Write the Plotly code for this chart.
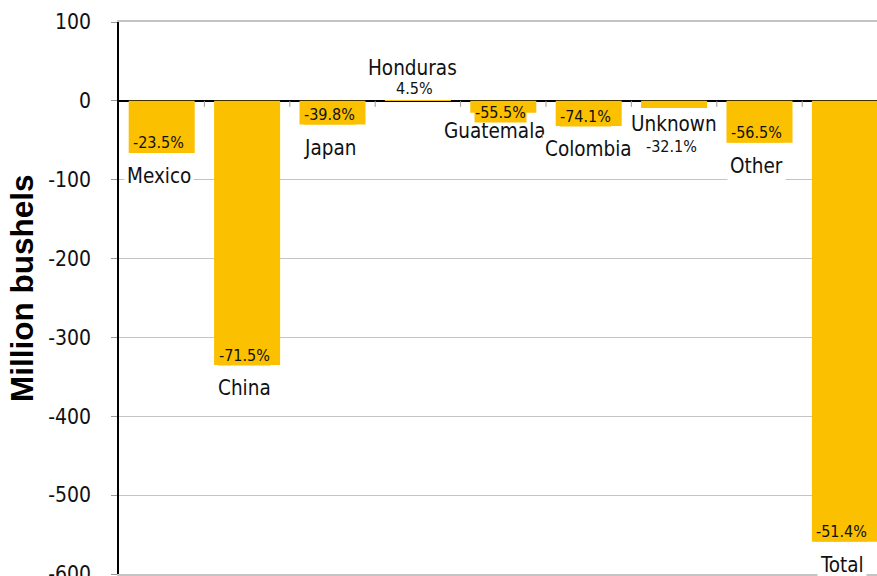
import plotly.graph_objects as go

categories = ["Mexico", "China", "Japan", "Honduras", "Guatemala", "Colombia", "Unknown", "Other", "Total"]
values = [-66, -335, -30, 1, -15, -32, -9, -53, -559]
pct_labels = ["-23.5%", "-71.5%", "-39.8%", "4.5%", "-55.5%", "-74.1%", "-32.1%", "-56.5%", "-51.4%"]
y_ticks = [100, 0, -100, -200, -300, -400, -500, -600]

BAR = "#FBC000"
FONT = "DejaVu Sans Condensed, Liberation Sans Narrow, sans-serif"

# label placement styles (pixel offsets from bar end): (pct_shift, pct_bg, name_shift, name_xshift)
default_style = (10, BAR, -23, -3)
special = {
    "Honduras": (12, "white", 32, -5),
    "Guatemala": (0, BAR, -18, -8),
    "Colombia": (10, BAR, -23, 0),
    "Unknown": (-39, "white", -16, 0),
}

fig = go.Figure()
fig.add_trace(go.Bar(x=categories, y=values, marker=dict(color=BAR, line=dict(width=0)),
                     width=0.773, hoverinfo="skip"))

for cat, v in zip(categories, values):
    ps, pbg, ns, nx = special.get(cat, default_style)
    fig.add_annotation(x=cat, y=v, text=cat, showarrow=False, xshift=nx, yshift=ns,
                       yanchor="middle", font=dict(family=FONT, size=20.5, color="#111"),
                       bgcolor="white", borderpad=2)
for cat, v, p in zip(categories, values, pct_labels):
    ps, pbg, ns, nx = special.get(cat, default_style)
    fig.add_annotation(x=cat, y=v, text=p, showarrow=False, xshift=-3, yshift=ps,
                       yanchor="middle", font=dict(family=FONT, size=16, color="#111"),
                       bgcolor=pbg, borderpad=0)

# small category-boundary ticks on the zero line
for i in range(len(categories) - 1):
    fig.add_shape(type="line", xref="x", yref="y", x0=i + 0.5, x1=i + 0.5,
                  ysizemode="pixel", yanchor=0, y0=0, y1=-6,
                  line=dict(color="#9a9a9a", width=1))

fig.add_annotation(xref="paper", yref="paper", x=0, y=0.5, xshift=-97, yshift=10, xanchor="center",
                   yanchor="middle", text="<b>Million bushels</b>", textangle=-90,
                   showarrow=False, font=dict(family="Liberation Sans, Arial, sans-serif", size=31.5, color="black"))

fig.update_layout(
    width=877, height=576,
    margin=dict(l=119, r=0, t=22, b=2, autoexpand=False),
    plot_bgcolor="white", paper_bgcolor="white",
    showlegend=False,
    xaxis=dict(range=[-0.5, 8.376], showticklabels=False, showgrid=False, ticks="",
               showline=True, mirror=True, linecolor="#c4c4c4", linewidth=1.5,
               zeroline=False, fixedrange=True, automargin=False),
    yaxis=dict(range=[-600, 100], tickvals=y_ticks, ticktext=[str(t) for t in y_ticks],
               showgrid=True, gridcolor="#c4c4c4", gridwidth=1,
               zeroline=True, zerolinecolor="black", zerolinewidth=1.5,
               showline=True, linecolor="black", linewidth=1.5,
               ticks="outside", ticklen=6, tickcolor="#9a9a9a",
               ticklabelstandoff=16, ticklabeloverflow="allow", automargin=False,
               tickfont=dict(family=FONT, size=21, color="#111"), fixedrange=True),
)

fig.write_html("out.html", config={"displayModeBar": False})
